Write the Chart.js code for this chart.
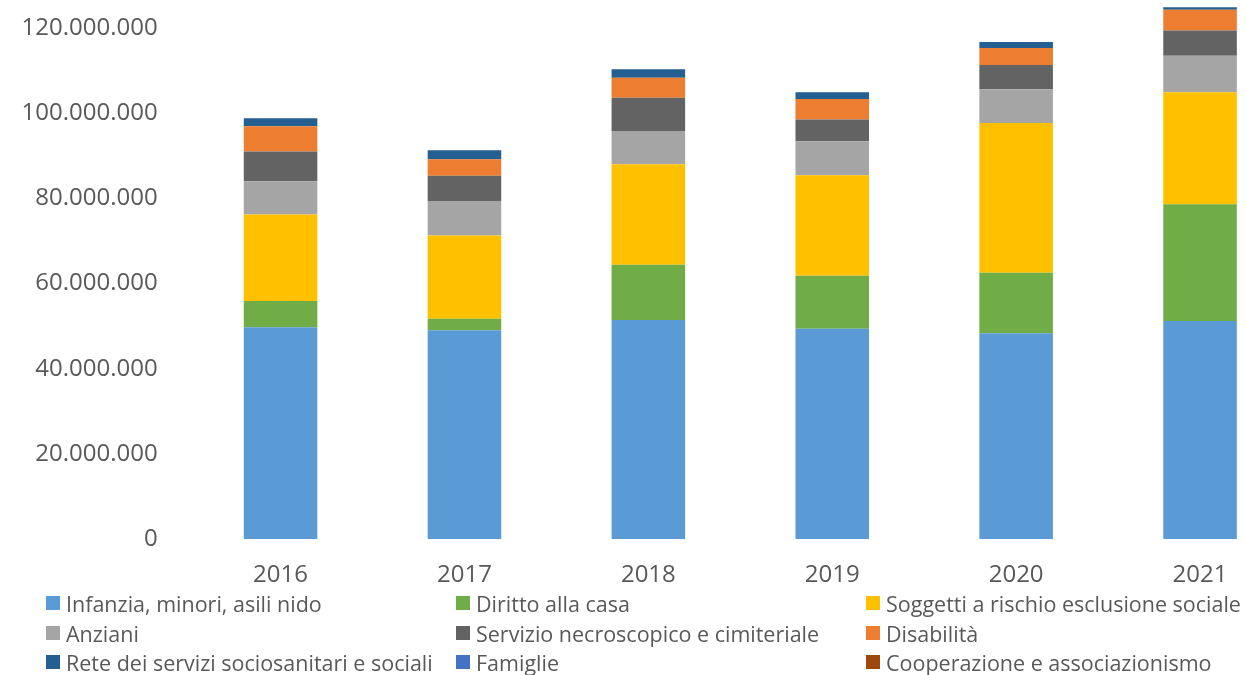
<!DOCTYPE html>
<html>
<head>
<meta charset="utf-8">
<script src="https://cdn.jsdelivr.net/npm/chart.js@4/dist/chart.umd.min.js"></script>
<style>
  html, body { margin: 0; padding: 0; background: #ffffff; overflow: hidden; width: 1246px; height: 675px; }
  #wrap { position: absolute; left: 0; top: -60px; width: 1292px; height: 649px; }
  #legend { position: absolute; left: 0; top: 0; width: 1246px; height: 675px; pointer-events: none; }
  .li { position: absolute; display: flex; align-items: center; height: 28px; font-family: "Open Sans", sans-serif; font-size: 21.5px; color: #595959; white-space: nowrap; }
  .sw { width: 14px; height: 14px; margin-right: 6px; flex: none; }
</style>
</head>
<body>
<div id="wrap"><canvas id="c" width="1292" height="649"></canvas></div>
<div id="legend"></div>
<script>
const years = ["2016", "2017", "2018", "2019", "2020", "2021"];

const infanzia      = [49700000, 49000000, 51400000, 49400000, 48300000, 51200000];
const dirittoCasa   = [6200000, 2700000, 13000000, 12400000, 14200000, 27400000];
const soggetti      = [20300000, 19600000, 23600000, 23600000, 35200000, 26300000];
const anziani       = [7800000, 8100000, 7800000, 8000000, 7900000, 8600000];
const necroscopico  = [7000000, 5900000, 7800000, 5100000, 5700000, 5900000];
const disabilita    = [5900000, 3900000, 4700000, 4800000, 4000000, 4900000];
const rete          = [1900000, 2100000, 2000000, 1600000, 1400000, 600000];
const famiglie      = [0, 0, 0, 0, 0, 0];
const cooperazione  = [0, 0, 0, 0, 0, 0];

const seriesNames = [
  "Infanzia, minori, asili nido",
  "Diritto alla casa",
  "Soggetti a rischio esclusione sociale",
  "Anziani",
  "Servizio necroscopico e cimiteriale",
  "Disabilità",
  "Rete dei servizi sociosanitari e sociali",
  "Famiglie",
  "Cooperazione e associazionismo"
];
const seriesValues = [infanzia, dirittoCasa, soggetti, anziani, necroscopico, disabilita, rete, famiglie, cooperazione];
const seriesColors = ["#5B9BD5", "#70AD47", "#FFC000", "#A5A5A5", "#636363", "#ED7D31", "#255E91", "#4472C4", "#9E480E"];

const yMax = 140000000;
const yTickStep = 20000000;

function fmtIt(v) {
  return String(Math.round(v)).replace(/\B(?=(\d{3})+(?!\d))/g, ".");
}

const datasets = seriesNames.map((name, i) => ({
  label: name,
  data: seriesValues[i],
  backgroundColor: seriesColors[i],
  borderWidth: 0,
  barPercentage: 0.4,
  categoryPercentage: 1.0
}));

const chart = new Chart(document.getElementById("c"), {
  type: "bar",
  data: { labels: years, datasets: datasets },
  options: {
    responsive: false,
    animation: false,
    devicePixelRatio: 1,
    layout: { autoPadding: false, padding: { left: 0, right: 0, top: 2.83, bottom: 0 } },
    plugins: { legend: { display: false }, tooltip: { enabled: false } },
    scales: {
      x: {
        stacked: true,
        grid: { display: false, drawTicks: false },
        border: { display: false },
        ticks: { color: "#595959", font: { family: "Open Sans", size: 24 }, padding: 22, maxRotation: 0 },
        afterFit: (s) => { s.height = 50; s.paddingLeft = 0; s.paddingRight = 0; }
      },
      y: {
        stacked: true,
        min: 0,
        max: yMax,
        grid: { display: false, drawTicks: false },
        border: { display: false },
        ticks: {
          stepSize: yTickStep,
          color: "#595959",
          font: { family: "Open Sans", size: 24 },
          padding: 31,
          callback: (v) => fmtIt(v)
        },
        afterFit: (s) => { s.width = 188.6; s.paddingTop = 0; s.paddingBottom = 0; }
      }
    }
  }
});

// HTML legend in 3 columns, built from the datasets
const legend = document.getElementById("legend");
const colX = [46, 456, 866];
const rowY = [603, 633, 662];
chart.data.datasets.forEach((ds, i) => {
  const el = document.createElement("div");
  el.className = "li";
  el.style.left = colX[i % 3] + "px";
  el.style.top = (rowY[Math.floor(i / 3)] - 14) + "px";
  const sw = document.createElement("span");
  sw.className = "sw";
  sw.style.background = ds.backgroundColor;
  const tx = document.createElement("span");
  tx.textContent = ds.label;
  el.appendChild(sw);
  el.appendChild(tx);
  legend.appendChild(el);
});
</script>
</body>
</html>
